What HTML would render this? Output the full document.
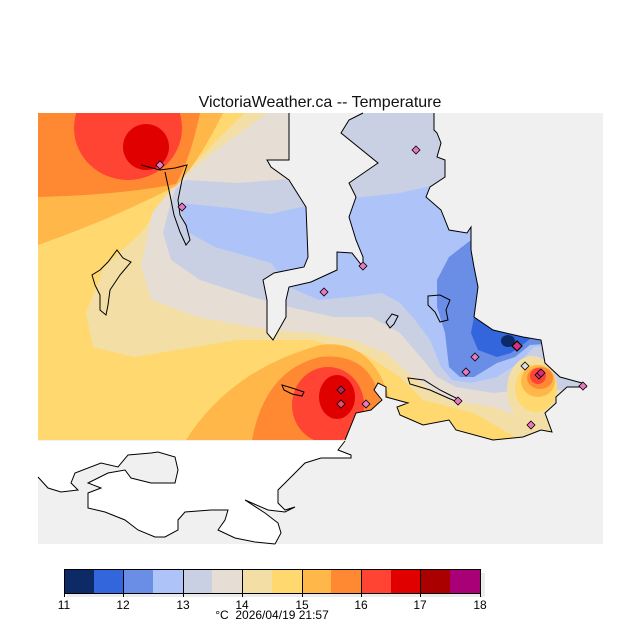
<!DOCTYPE html>
<html><head><meta charset="utf-8"><style>
html,body{margin:0;padding:0;background:#fff;}
svg{display:block;}
text{font-family:"Liberation Sans","DejaVu Sans",sans-serif;}
</style></head><body>
<svg width="640" height="640" viewBox="0 0 640 640" xmlns="http://www.w3.org/2000/svg">
<defs>
<clipPath id="land">
<path d="M38,113 L289,113 L289,160 L267,160 L271,167 L289,180 L306,207 L308,257 L304,267 L274,273 L263,280 L267,300 L267,333 L273,340 L286,317 L286,300 L289,287 L311,282 L337,270 L337,252 L352,253 L363,267 L363,257 L356,240 L349,217 L356,197 L349,183 L378,163 L341,133 L349,120 L363,113 L434,113 L434,130 L437,133 L441,143 L437,157 L445,160 L445,177 L430,187 L426,197 L441,210 L449,230 L467,233 L471,227 L471,250 L474,267 L478,287 L474,317 L493,330 L523,337 L541,340 L545,363 L560,377 L582,383 L586,387 L567,387 L556,397 L556,403 L545,413 L552,432 L541,430 L523,437 L493,440 L456,430 L449,420 L423,425 L400,415 L397,407 L408,403 L386,397 L386,387 L378,383 L374,390 L382,400 L371,410 L356,413 L352,423 L345,440 L38,440 Z"/>
</clipPath>
</defs>
<text x="320" y="107" font-size="16" text-anchor="middle" fill="#111">VictoriaWeather.ca -- Temperature</text>
<rect x="38" y="113" width="565" height="431" fill="#f0f0f0"/>
<path d="M38,441 L345,441 L338,450 L351,455 L351,458 L321,458 L305,463 L291,477 L278,490 L278,503 L285,510 L295,507 L285,512 L268,510 L245,500 L265,513 L278,523 L281,533 L275,544 L255,542 L235,538 L218,530 L225,520 L228,510 L211,510 L185,512 L178,520 L178,530 L165,537 L155,537 L138,530 L125,520 L105,512 L88,508 L88,493 L101,488 L88,483 L108,473 L125,470 L131,478 L151,483 L175,483 L178,470 L175,457 L158,452 L151,453 L128,455 L118,467 L101,463 L75,473 L71,483 L78,490 L61,492 L48,488 L38,477 Z" fill="#fff"/>
<path d="M345,441 L338,450 L351,455 L351,458 L321,458 L305,463 L291,477 L278,490 L278,503 L285,510 L295,507 L285,512 L268,510 L245,500 L265,513 L278,523 L281,533 L275,544 M275,544 L255,542 L235,538 L218,530 L225,520 L228,510 L211,510 L185,512 L178,520 L178,530 L165,537 L155,537 L138,530 L125,520 L105,512 L88,508 L88,493 L101,488 L88,483 L108,473 L125,470 L131,478 L151,483 L175,483 L178,470 L175,457 L158,452 L151,453 L128,455 L118,467 L101,463 L75,473 L71,483 L78,490 L61,492 L48,488 L38,477" fill="none" stroke="#000" stroke-width="1"/>
<g clip-path="url(#land)">
<rect x="38" y="113" width="565" height="330" fill="#ffd96f"/>
<path d="M245,113 Q205,150 176,185 L141,233 L104,267 L86,313 L93,347 L134,357 L237,340 L311,340 L363,353 L400,377 L423,400 L474,413 L520,440 L603,440 L603,113 Z" fill="#f3dfa6"/>
<path d="M267,113 Q215,150 176,183 L152,213 L141,267 L152,300 L197,317 L271,330 L311,333 L352,340 L386,353 L408,373 L430,390 L449,400 L493,407 L530,420 L603,420 L603,113 Z" fill="#e6ded4"/>
<path d="M176,188 L186,180 L237,183 L300,178 L300,113 L603,113 L603,390 L523,390 L493,393 L456,387 L437,377 L423,360 L400,333 L371,317 L334,317 L289,307 L252,297 L200,280 L171,260 L163,233 L170,205 Z" fill="#cad0e4"/>
<path d="M178,203 L230,208 L270,214 L310,205 L330,200 L363,197 L400,193 L426,187 L450,185 L603,185 L603,340 L534,347 L519,363 L497,377 L471,383 L452,380 L441,367 L430,340 L415,320 L400,303 L382,293 L349,297 L319,300 L289,287 L271,263 L215,247 L189,233 Z" fill="#aec3f7"/>
<path d="M471,240 L449,257 L437,280 L437,307 L445,333 L449,367 L460,377 L474,377 L497,363 L515,357 L530,345 L600,340 L600,240 Z" fill="#6a8ee6"/>
<path d="M490,300 L474,317 L471,333 L478,350 L497,357 L511,353 L525,343 L540,330 L500,300 Z" fill="#3366dd"/>
<ellipse cx="508" cy="341" rx="7" ry="6" fill="#0c2a66"/>
<ellipse cx="532" cy="390" rx="25" ry="34" fill="#f3dfa6"/>
<ellipse cx="536" cy="388" rx="21" ry="24" fill="#ffd96f"/>
<ellipse cx="538" cy="381" rx="17" ry="16" fill="#ffb74a"/>
<ellipse cx="540" cy="378" rx="13" ry="11" fill="#ff8833"/>
<ellipse cx="538" cy="376" rx="8" ry="8" fill="#ff4433"/>
<path d="M186,440 Q230,370 320,345 Q372,338 390,400 L390,440 Z" fill="#ffb74a"/>
<path d="M252,440 Q265,370 320,357 Q370,352 380,400 L372,440 Z" fill="#ff8833"/>
<ellipse cx="328" cy="405" rx="36" ry="38" fill="#ff4433"/>
<ellipse cx="337" cy="397" rx="18" ry="22" fill="#e00000"/>
<path d="M38,113 L223,113 Q200,160 176,186 Q110,220 38,245 Z" fill="#ffb74a"/>
<path d="M38,113 L200,113 Q190,160 176,184 Q120,195 38,197 Z" fill="#ff8833"/>
<ellipse cx="128" cy="128" rx="54" ry="52" fill="#ff4433"/>
<ellipse cx="146" cy="147" rx="23" ry="23" fill="#e00000"/>
</g>
<path d="M289,113 L289,160 L267,160 L271,167 L289,180 L306,207 L308,257 L304,267 L274,273 L263,280 L267,300 L267,333 L273,340 L286,317 L286,300 L289,287 L311,282 L337,270 L337,252 L352,253 L363,267 L363,257 L356,240 L349,217 L356,197 L349,183 L378,163 L341,133 L349,120 L363,113 M434,113 L434,130 L437,133 L441,143 L437,157 L445,160 L445,177 L430,187 L426,197 L441,210 L449,230 L467,233 L471,227 L471,250 L474,267 L478,287 L474,317 L493,330 L523,337 L541,340 L545,363 L560,377 L582,383 L586,387 L567,387 L556,397 L556,403 L545,413 L552,432 L541,430 L523,437 L493,440 L456,430 L449,420 L423,425 L400,415 L397,407 L408,403 L386,397 L386,387 L378,383 L374,390 L382,400 L371,410 L356,413 L352,423 L345,440" fill="none" stroke="#000" stroke-width="1"/>
<g fill="none" stroke="#000" stroke-width="1">
<path d="M141,165 L160,170 L175,168 L187,165 L182,180 L178,200 L180,215 L186,225 L190,240 L186,245 L180,232 L174,215 L170,195 L165,172"/>
<path d="M117,250 L123,258 L131,262 L120,275 L110,290 L108,305 L106,315 L100,310 L100,295 L95,285 L92,275 L100,270 L108,262 Z"/>
<path d="M282,385 L292,388 L304,392 L302,396 L292,394 L284,390 Z"/>
<path d="M428,296 L440,295 L450,300 L446,310 L448,320 L440,322 L435,312 L428,305 Z"/>
<path d="M386,322 L392,314 L398,316 L394,324 L390,328 Z"/>
<path d="M408,378 L424,380 L440,390 L456,398 L460,403 L448,398 L430,390 L410,384 Z"/>
</g>
<g stroke="#000" stroke-width="0.8" fill="#e878c0">
<path d="M160,161 l4,4 l-4,4 l-4,-4 Z"/>
<path d="M182,203 l4,4 l-4,4 l-4,-4 Z"/>
<path d="M363,262 l4,4 l-4,4 l-4,-4 Z"/>
<path d="M324,288 l4,4 l-4,4 l-4,-4 Z"/>
<path d="M416,146 l4,4 l-4,4 l-4,-4 Z"/>
<path d="M475,353 l4,4 l-4,4 l-4,-4 Z"/>
<path d="M466,368 l4,4 l-4,4 l-4,-4 Z"/>
<path d="M517,341 l5,5 l-5,5 l-5,-5 Z" fill="#d8307a" stroke-width="1.2"/>
<path d="M525,362 l4,4 l-4,4 l-4,-4 Z" fill="#ddd"/>
<path d="M539,371 l4,4 l-4,4 l-4,-4 Z" fill="#d8307a"/>
<path d="M541,369 l4,4 l-4,4 l-4,-4 Z" fill="#d8307a"/>
<path d="M583,382 l4,4 l-4,4 l-4,-4 Z"/>
<path d="M531,421 l4,4 l-4,4 l-4,-4 Z"/>
<path d="M458,397 l4,4 l-4,4 l-4,-4 Z"/>
<path d="M366,400 l4,4 l-4,4 l-4,-4 Z"/>
<path d="M341,386 l4,4 l-4,4 l-4,-4 Z" fill="#b02a55"/>
<path d="M341,400 l4,4 l-4,4 l-4,-4 Z" fill="#e25070"/>
</g>
<rect x="67" y="573" width="418" height="24" fill="#ececec"/>
<g>
<rect x="64" y="569" width="30" height="24" fill="#0c2a66"/>
<rect x="94" y="569" width="29" height="24" fill="#3366dd"/>
<rect x="123" y="569" width="30" height="24" fill="#6a8ee6"/>
<rect x="153" y="569" width="30" height="24" fill="#aec3f7"/>
<rect x="183" y="569" width="29" height="24" fill="#cad0e4"/>
<rect x="212" y="569" width="30" height="24" fill="#e6ded4"/>
<rect x="242" y="569" width="30" height="24" fill="#f3dfa6"/>
<rect x="272" y="569" width="30" height="24" fill="#ffd96f"/>
<rect x="302" y="569" width="29" height="24" fill="#ffb74a"/>
<rect x="331" y="569" width="30" height="24" fill="#ff8833"/>
<rect x="361" y="569" width="30" height="24" fill="#ff4433"/>
<rect x="391" y="569" width="29" height="24" fill="#e00000"/>
<rect x="420" y="569" width="30" height="24" fill="#aa0000"/>
<rect x="450" y="569" width="30" height="24" fill="#aa0077"/>
</g>
<g stroke="#000" stroke-width="1" fill="none">
<rect x="64.5" y="569.5" width="416" height="24"/>
<path d="M123.5,569 V597 M183.5,569 V597 M242.5,569 V597 M302.5,569 V597 M361.5,569 V597 M420.5,569 V597 M64.5,593 V597 M480.5,593 V597"/>
</g>
<g font-size="12" fill="#000" text-anchor="middle">
<text x="64" y="609">11</text><text x="123" y="609">12</text><text x="183" y="609">13</text><text x="242" y="609">14</text><text x="302" y="609">15</text><text x="361" y="609">16</text><text x="420" y="609">17</text><text x="480" y="609">18</text>
<text x="272" y="619" font-size="12" xml:space="preserve">°C  2026/04/19 21:57</text>
</g>
</svg>
</body></html>
